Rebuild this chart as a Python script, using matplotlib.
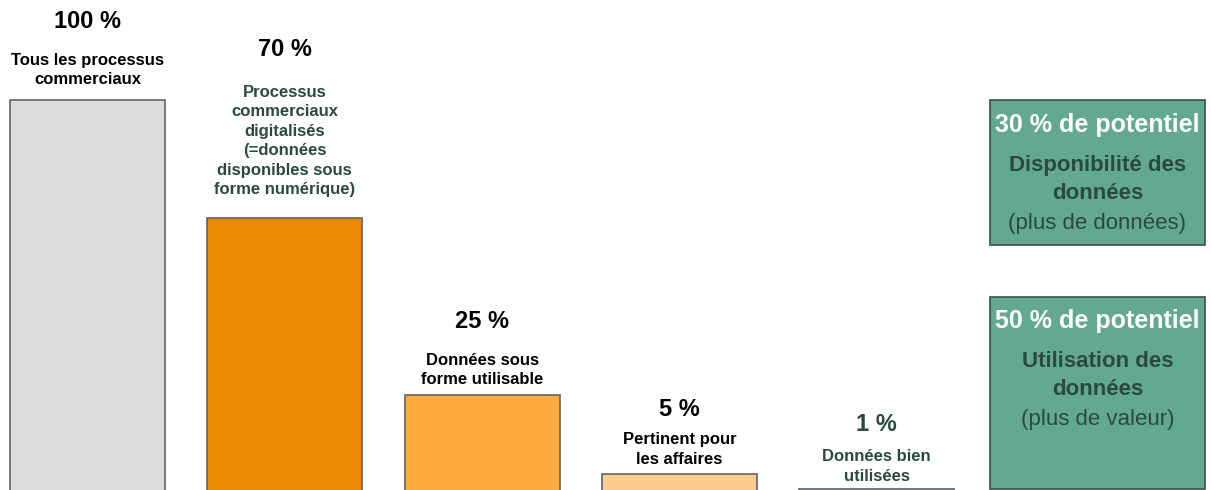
import matplotlib.pyplot as plt
from matplotlib.patches import Rectangle

plt.rcParams['font.family'] = ['Liberation Sans', 'DejaVu Sans']

# Données
values = [100, 70, 25, 5, 1]
value_labels = ['100 %', '70 %', '25 %', '5 %', '1 %']
bar_labels = ['Tous les processus\ncommerciaux',
              'Processus\ncommerciaux\ndigitalisés\n(=données\ndisponibles sous\nforme numérique)',
              'Données sous\nforme utilisable',
              'Pertinent pour\nles affaires',
              'Données bien\nutilisées']
potentials = ['30 % de potentiel', '50 % de potentiel']
potential_titles = ['Disponibilité des\ndonnées', 'Utilisation des\ndonnées']
potential_notes = ['(plus de données)', '(plus de valeur)']

# Style
bar_colors = ['#dcdcdc', '#ea8a00', '#fdab3d', '#fecd8b', '#dcdcdc']
value_colors = ['black', 'black', 'black', 'black', '#2b4a3d']
label_colors = ['black', '#2b4a3d', 'black', 'black', '#2b4a3d']
dark_green = '#2b4a3d'
box_green = '#62a98f'
H = 490.0  # hauteur en pixels
value_y = [22, 50, 322, 409, 424]
label_y = [70, 141, 370, 449.5, 466.5]

fig = plt.figure(figsize=(12.11, 4.9), dpi=100)
ax = fig.add_axes([0, 0, 1, 1])
x = list(range(len(values)))
ax.bar(x, values, width=0.786, color=bar_colors, edgecolor='#5f6368', linewidth=1.2)
ax.set_xlim(-0.4435, 5.694)
ax.set_ylim(0.84, 125.42)
ax.axis('off')

for i in x:
    ax.text(i, 1 - value_y[i] / H, value_labels[i], transform=ax.get_xaxis_transform(),
            ha='center', va='center', fontsize=17, fontweight='bold', color=value_colors[i])
    ax.text(i, 1 - label_y[i] / H, bar_labels[i], transform=ax.get_xaxis_transform(),
            ha='center', va='center', fontsize=12, fontweight='bold', color=label_colors[i],
            linespacing=1.37)

# Encadrés de potentiel
box_tops = [100, 297]
box_bottoms = [245, 489]
head_y = [125, 321]
title_y = [179.5, 375.5]
note_y = [224, 419]
x0, x1 = 990 / 1211, 1205 / 1211
xc = (x0 + x1) / 2
for k in range(2):
    ax.add_patch(Rectangle((x0, 1 - box_bottoms[k] / H), x1 - x0,
                           (box_bottoms[k] - box_tops[k]) / H, transform=ax.transAxes,
                           facecolor=box_green, edgecolor='#3d4f46', linewidth=1.2))
    ax.text(xc, 1 - head_y[k] / H, potentials[k], transform=ax.transAxes, ha='center',
            va='center', fontsize=18, fontweight='bold', color='white')
    ax.text(xc, 1 - title_y[k] / H, potential_titles[k], transform=ax.transAxes, ha='center',
            va='center', fontsize=16, fontweight='bold', color=dark_green, linespacing=1.4)
    ax.text(xc, 1 - note_y[k] / H, potential_notes[k], transform=ax.transAxes, ha='center',
            va='center', fontsize=16, color=dark_green)

fig.savefig('out.png', dpi=100)
